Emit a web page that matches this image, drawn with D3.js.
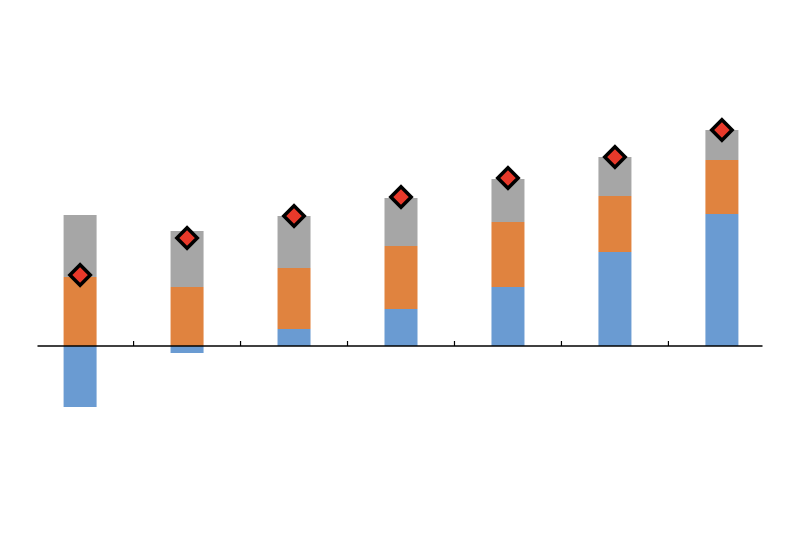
<!DOCTYPE html>
<html>
<head>
<meta charset="utf-8">
<script src="https://cdn.jsdelivr.net/npm/d3@7"></script>
<style>
html,body{margin:0;padding:0;background:#fff;}
svg{display:block;}
</style>
</head>
<body>
<svg id="chart" width="800" height="533"></svg>
<script>
const categories = ["1","2","3","4","5","6","7"];
const seriesA = [-6.1, -0.7, 1.7, 3.7, 5.9, 9.4, 13.2];   // blue
const seriesB = [6.9, 5.9, 6.1, 6.3, 6.5, 5.6, 5.4];      // orange
const seriesC = [6.2, 5.6, 5.2, 4.8, 4.3, 3.9, 3.0];      // gray
const totals  = [7.1, 10.8, 13.0, 14.9, 16.8, 18.9, 21.6]; // diamonds

const colors = {A:"#6a9bd2", B:"#e0833f", C:"#a6a6a6"};

const svg = d3.select("#chart");
const x = d3.scaleBand().domain(categories).range([26.6, 775.4]).paddingInner(0.69).paddingOuter(0.345);
const y = d3.scaleLinear().domain([-15, 25]).range([496, 96]);

const data = categories.map((c,i)=>({c, A:seriesA[i], B:seriesB[i], C:seriesC[i], T:totals[i]}));

// stacked with diverging offsets
const stack = d3.stack().keys(["A","B","C"]).offset(d3.stackOffsetDiverging);
const layers = stack(data);

const barW = 33;
svg.append("g").selectAll("g").data(layers).join("g")
  .attr("fill", d=>colors[d.key])
  .selectAll("rect").data(d=>d).join("rect")
  .attr("x", d=>x(d.data.c) + x.bandwidth()/2 - barW/2)
  .attr("width", barW)
  .attr("y", d=>y(Math.max(d[0],d[1])))
  .attr("height", d=>Math.abs(y(d[0])-y(d[1])));

// axis line at zero
const step = x.step();
svg.append("line")
  .attr("x1", 37.5).attr("x2", 762.5)
  .attr("y1", y(0)).attr("y2", y(0))
  .attr("stroke", "#000").attr("stroke-width", 1.5);

// tick marks between categories
const tickPos = categories.slice(1).map(c => x(c) + x.bandwidth()/2 - step/2);
svg.append("g").selectAll("line").data(tickPos).join("line")
  .attr("x1", d=>d).attr("x2", d=>d)
  .attr("y1", y(0)).attr("y2", y(0)-5)
  .attr("stroke", "#000").attr("stroke-width", 1.2);

// diamonds
const sym = d3.symbol().type(d3.symbolDiamond2).size(2*11.5*11.5);
svg.append("g").selectAll("path").data(data).join("path")
  .attr("transform", d=>`translate(${x(d.c)+x.bandwidth()/2},${y(d.T)})`)
  .attr("d", sym())
  .attr("fill", "#e8392a")
  .attr("stroke", "#000")
  .attr("stroke-width", 3.5)
  .attr("stroke-linejoin", "miter");
</script>
</body>
</html>
